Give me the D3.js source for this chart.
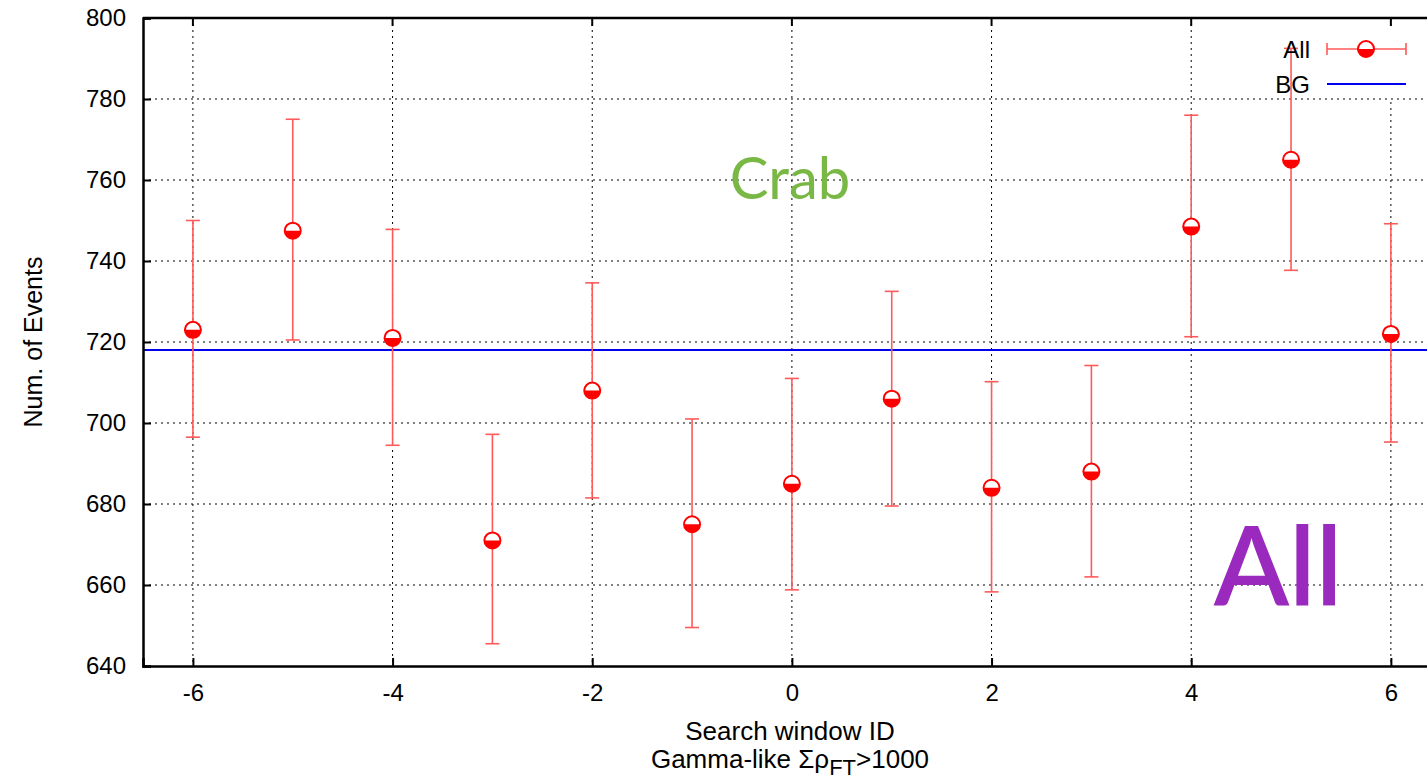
<!DOCTYPE html>
<html>
<head>
<meta charset="utf-8">
<script src="https://cdn.jsdelivr.net/npm/d3@7"></script>
<style>
  html, body { margin: 0; padding: 0; background: #fff; overflow: hidden; }
  svg { display: block; }
</style>
</head>
<body>
<div id="chart"></div>
<script>
// search window ids and counts
var windowIds = [-6, -5, -4, -3, -2, -1, 0, 1, 2, 3, 4, 5, 6];
var counts    = [723, 747.5, 721, 671, 708, 675, 685, 706, 684, 688, 748.5, 765, 722];
var errLow    = [696.5, 720.5, 694.5, 645.5, 681.5, 649.5, 658.8, 679.5, 658.3, 662, 721.3, 737.7, 695.3];
var errHigh   = [750, 775, 747.8, 697.2, 734.6, 701, 711, 732.5, 710.2, 714.2, 776, 792.5, 749.2];
var bgLevel = 718;
var xTicks = [-6, -4, -2, 0, 2, 4, 6];
var yTicks = [640, 660, 680, 700, 720, 740, 760, 780, 800];

(function () {
  var W = 1427, H = 780;
  var m = { t: 18, l: 143, b: 114 };
  var font = "'Liberation Sans', Arial, Helvetica, sans-serif";
  var red = "#ff0000", barRed = "#ff5a5a", blue = "#0000ee";

  var svg = d3.select("#chart").append("svg").attr("width", W).attr("height", H);

  var x = d3.scaleLinear().domain([-6.5, 6.5]).range([m.l, m.l + 13 * 99.83]);
  var y = d3.scaleLinear().domain([640, 800]).range([H - m.b, m.t]);
  var xr = x(6.5);

  // grid
  var grid = svg.append("g").attr("stroke", "#000").attr("stroke-width", 1).attr("stroke-dasharray", "2,4");
  grid.selectAll("line.gy").data(yTicks.slice(1, -1)).enter().append("line")
    .attr("x1", m.l).attr("x2", xr).attr("y1", function (d) { return y(d); }).attr("y2", function (d) { return y(d); });
  grid.selectAll("line.gx").data(xTicks).enter().append("line")
    .attr("y1", m.t).attr("y2", y(640)).attr("x1", function (d) { return x(d); }).attr("x2", function (d) { return x(d); });

  // labels in plot
  svg.append("text").attr("x", 790).attr("y", 199).attr("text-anchor", "middle")
    .attr("fill", "#79b845").attr("font-size", 58).attr("font-family", "Lato, 'Open Sans', sans-serif").text("Crab");
  svg.append("text").attr("x", 1278).attr("y", 605).attr("text-anchor", "middle")
    .attr("fill", "#9a2abd").attr("font-size", 110).attr("font-weight", 600).attr("font-family", "Lato, 'Open Sans', sans-serif").text("All");

  // legend box
  svg.append("rect").attr("x", 1262).attr("y", 30).attr("width", 160).attr("height", 68).attr("fill", "#fff");

  // background line
  svg.append("line").attr("x1", m.l).attr("x2", xr).attr("y1", y(bgLevel)).attr("y2", y(bgLevel))
    .attr("stroke", blue).attr("stroke-width", 2);

  // axes (left, bottom, top)
  var yAxis = d3.axisLeft(y).tickValues(yTicks).tickSize(-8).tickPadding(17).tickFormat(String);
  var ga = svg.append("g").attr("transform", "translate(" + m.l + ",0)").call(yAxis);
  var xAxis = d3.axisBottom(x).tickValues(xTicks).tickSize(-8).tickPadding(18).tickFormat(String);
  var gb = svg.append("g").attr("transform", "translate(0," + y(640) + ")").call(xAxis);
  [ga, gb].forEach(function (g) {
    g.select(".domain").attr("stroke", "#000").attr("stroke-width", 2.5);
    g.selectAll(".tick line").attr("stroke", "#000").attr("stroke-width", 2);
    g.selectAll(".tick text").attr("font-size", 24).attr("font-family", font).attr("fill", "#000");
  });
  svg.append("line").attr("x1", m.l).attr("x2", xr).attr("y1", m.t).attr("y2", m.t)
    .attr("stroke", "#000").attr("stroke-width", 2.5);
  var mirror = svg.append("g").attr("stroke", "#000").attr("stroke-width", 2);
  mirror.selectAll("line").data(xTicks).enter().append("line")
    .attr("x1", function (d) { return x(d); }).attr("x2", function (d) { return x(d); })
    .attr("y1", m.t).attr("y2", m.t + 8);

  // error bars
  var cap = 7;
  var eb = svg.append("g").attr("stroke", barRed).attr("stroke-width", 1.6);
  windowIds.forEach(function (id, i) {
    var cx = x(id);
    eb.append("line").attr("x1", cx).attr("x2", cx).attr("y1", y(errLow[i])).attr("y2", y(errHigh[i]));
    eb.append("line").attr("x1", cx - cap).attr("x2", cx + cap).attr("y1", y(errLow[i])).attr("y2", y(errLow[i]));
    eb.append("line").attr("x1", cx - cap).attr("x2", cx + cap).attr("y1", y(errHigh[i])).attr("y2", y(errHigh[i]));
  });

  // half-filled circle markers
  var r = 8;
  function marker(g, cx, cy) {
    g.append("circle").attr("cx", cx).attr("cy", cy).attr("r", r).attr("fill", "#fff");
    g.append("path").attr("d", "M" + (cx - r) + "," + cy + " A" + r + "," + r + " 0 0,0 " + (cx + r) + "," + cy + " Z").attr("fill", red);
    g.append("circle").attr("cx", cx).attr("cy", cy).attr("r", r).attr("fill", "none").attr("stroke", red).attr("stroke-width", 2);
  }
  var mk = svg.append("g");
  windowIds.forEach(function (id, i) { marker(mk, x(id), y(counts[i])); });

  // legend
  var lg = svg.append("g");
  lg.append("text").attr("x", 1310).attr("y", 58).attr("text-anchor", "end")
    .attr("font-size", 24).attr("font-family", font).text("All");
  lg.append("text").attr("x", 1310).attr("y", 93).attr("text-anchor", "end")
    .attr("font-size", 24).attr("font-family", font).text("BG");
  var ly = 49;
  lg.append("line").attr("x1", 1327).attr("x2", 1406).attr("y1", ly).attr("y2", ly).attr("stroke", barRed).attr("stroke-width", 1.6);
  [1327, 1406].forEach(function (px) {
    lg.append("line").attr("x1", px).attr("x2", px).attr("y1", ly - 6).attr("y2", ly + 6).attr("stroke", barRed).attr("stroke-width", 1.6);
  });
  marker(lg, 1366, ly);
  lg.append("line").attr("x1", 1327).attr("x2", 1406).attr("y1", 84).attr("y2", 84).attr("stroke", blue).attr("stroke-width", 2);

  // axis titles
  svg.append("text").attr("transform", "translate(42,342) rotate(-90)").attr("text-anchor", "middle")
    .attr("font-size", 25).attr("font-family", font).text("Num. of Events");
  svg.append("text").attr("x", 790).attr("y", 740).attr("text-anchor", "middle")
    .attr("font-size", 26).attr("font-family", font).text("Search window ID");
  var t2 = svg.append("text").attr("x", 790).attr("y", 768).attr("text-anchor", "middle")
    .attr("font-size", 26).attr("font-family", font);
  t2.append("tspan").text("Gamma-like \u03A3\u03C1");
  t2.append("tspan").attr("dy", 7).attr("font-size", 22).text("FT");
  t2.append("tspan").attr("dy", -7).text(">1000");
})();
</script>
</body>
</html>
